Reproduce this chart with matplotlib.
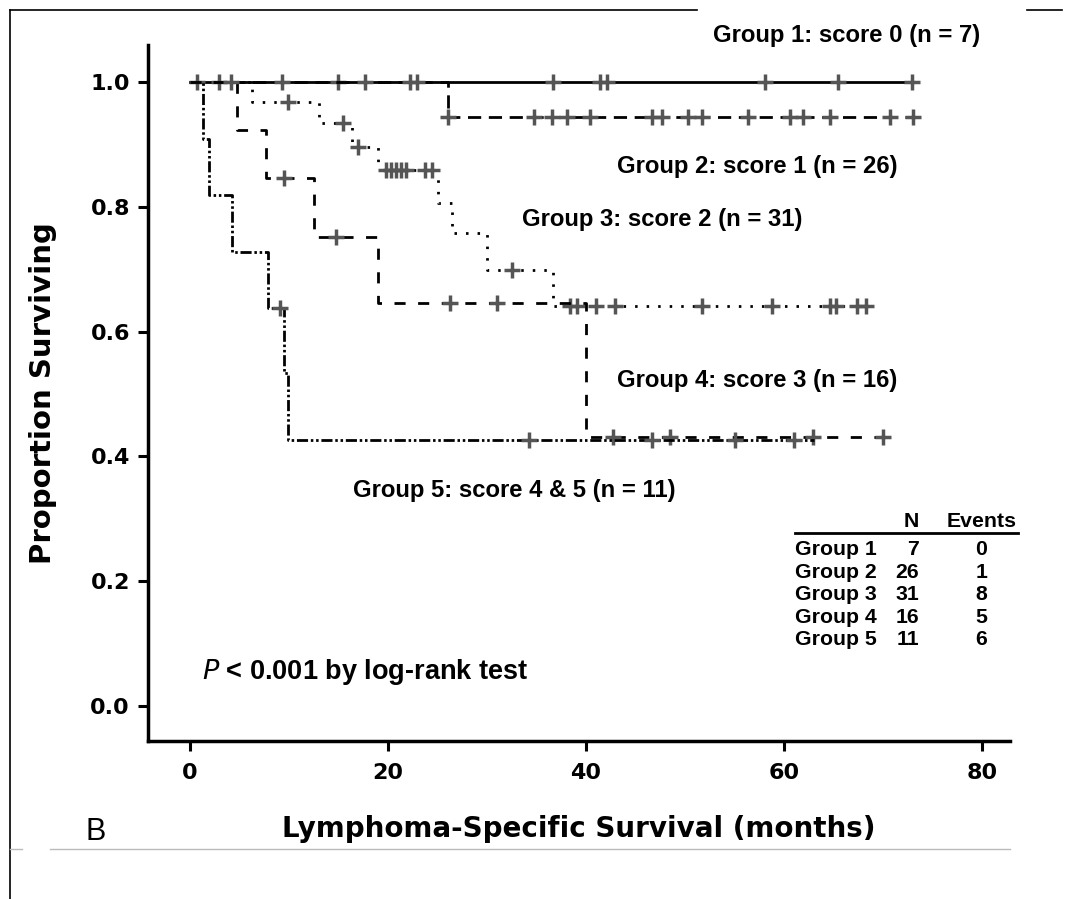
import numpy as np
import matplotlib
matplotlib.use('Agg')
import matplotlib.pyplot as plt
from matplotlib.lines import Line2D

plt.rcParams['lines.scale_dashes'] = False

# Kaplan-Meier step curves (time in months, proportion surviving)
g1_t = [0, 72.9]
g1_s = [1.0, 1.0]
g2_t = [0, 26.1, 73.0]
g2_s = [1.0, 0.944, 0.944]
g3_t = [0, 6.3, 13.1, 16.4, 19.0, 25.1, 26.5, 30.0, 36.7, 68.3]
g3_s = [1.0, 0.967, 0.934, 0.896, 0.859, 0.806, 0.758, 0.699, 0.641, 0.641]
g4_t = [0, 4.8, 7.7, 12.6, 19.0, 40.0, 70.0]
g4_s = [1.0, 0.923, 0.846, 0.752, 0.646, 0.431, 0.431]
g5_t = [0, 1.4, 2.0, 4.3, 7.9, 9.5, 9.9, 63.0]
g5_s = [1.0, 0.909, 0.818, 0.727, 0.638, 0.534, 0.426, 0.426]

# censored observations
g1_c = [15.0, 36.7, 41.4, 42.1, 58.1, 65.4, 72.9]
g2_c = [3.0, 9.3, 17.7, 22.2, 22.9, 26.1, 34.8, 36.6, 38.1, 40.4, 46.7, 47.7,
        50.3, 51.7, 56.4, 60.6, 61.9, 64.6, 70.7, 73.0]
g3_c = [9.9, 15.5, 17.0, 19.8, 20.3, 20.8, 21.3, 21.8, 23.8, 24.5, 32.5, 38.4,
        39.1, 41.0, 42.9, 51.7, 58.8, 64.6, 65.2, 67.4, 68.3]
g4_c = [0.7, 4.2, 9.5, 14.8, 26.3, 31.0, 42.7, 48.5, 62.9, 70.0]
g5_c = [9.1, 34.3, 46.7, 55.0, 61.0]

group_labels = ['Group 1: score 0 (n = 7)', 'Group 2: score 1 (n = 26)',
                'Group 3: score 2 (n = 31)', 'Group 4: score 3 (n = 16)',
                'Group 5: score 4 & 5 (n = 11)']
table_groups = ['Group 1', 'Group 2', 'Group 3', 'Group 4', 'Group 5']
table_n = [7, 26, 31, 16, 11]
table_events = [0, 1, 8, 5, 6]

W, H = 1080, 899
fig = plt.figure(figsize=(W / 100, H / 100), dpi=100)
ax = fig.add_axes([148 / W, 1 - 741 / H, (1010 - 148) / W, (741 - 45) / H])

styles = [
    dict(linestyle='-'),
    dict(dashes=(9.5, 5.5)),
    dict(dashes=(1.8, 6.5)),
    dict(dashes=(8, 9)),
    dict(dashes=(8, 2, 1.8, 2, 1.8, 2)),
]
curves = [(g1_t, g1_s, g1_c), (g2_t, g2_s, g2_c), (g3_t, g3_s, g3_c),
          (g4_t, g4_s, g4_c), (g5_t, g5_s, g5_c)]

for (t, s, c), st in zip(curves, styles):
    ax.plot(t, s, drawstyle='steps-post', color='black', lw=2.0, **st)
    idx = np.searchsorted(t, c, side='right') - 1
    cs = np.array(s)[idx]
    ax.plot(c, cs, linestyle='none', marker='+', color='#555555',
            markersize=11, markeredgewidth=2.5)

ax.set_xlim(-4.2, 82.8)
ax.set_ylim(-0.056, 1.059)
ax.set_xticks([0, 20, 40, 60, 80])
ax.set_yticks([0.0, 0.2, 0.4, 0.6, 0.8, 1.0])
ax.set_yticklabels(['0.0', '0.2', '0.4', '0.6', '0.8', '1.0'])
for sp in ['top', 'right']:
    ax.spines[sp].set_visible(False)
for sp in ['left', 'bottom']:
    ax.spines[sp].set_linewidth(2.5)
ax.tick_params(width=2.2, length=7, labelsize=16)
ax.tick_params(axis='x', pad=9)
ax.tick_params(axis='y', pad=6)
for lab in ax.get_xticklabels() + ax.get_yticklabels():
    lab.set_fontweight('bold')

ax.set_xlabel('Lymphoma-Specific Survival (months)', fontsize=20,
              fontweight='bold', labelpad=23)
ax.set_ylabel('Proportion Surviving', fontsize=21, fontweight='bold',
              labelpad=24)

lab_font = dict(family='Liberation Sans', fontweight='bold', fontsize=17.2)
label_pos = [(52.8, 1.074), (43.1, 0.865), (33.5, 0.779), (43.1, 0.522), (16.5, 0.346)]
for txt, (x, y) in zip(group_labels, label_pos):
    ax.text(x, y, txt, ha='left', va='center', clip_on=False, **lab_font)

ax.text(1.3, 0.054, r'$\bf\it{P}$' + ' < 0.001 by log-rank test', ha='left',
        va='center', family='Liberation Sans', fontweight='bold', fontsize=19.5)

# small N / Events table
tab_font = dict(family='Liberation Sans', fontweight='bold', fontsize=15.3)
ax.text(73.6, 0.296, 'N', ha='right', va='center', **tab_font)
ax.text(79.9, 0.296, 'Events', ha='center', va='center', **tab_font)
ax.plot([61.1, 83.6], [0.278, 0.278], color='black', lw=2, clip_on=False)
for i, (g, n, e) in enumerate(zip(table_groups, table_n, table_events)):
    y = 0.25 - i * 0.036
    ax.text(61.1, y, g, ha='left', va='center', **tab_font)
    ax.text(73.6, y, str(n), ha='right', va='center', **tab_font)
    ax.text(79.9, y, str(e), ha='center', va='center', **tab_font)

# panel letter and frame lines of the original figure
fig.text(96 / W, 1 - 832 / H, 'B', family='Liberation Sans', fontsize=22,
         ha='center', va='center')
fig.add_artist(Line2D([10 / W, 697 / W], [1 - 10 / H, 1 - 10 / H], color='black', lw=1.2))
fig.add_artist(Line2D([1027 / W, 1062 / W], [1 - 10 / H, 1 - 10 / H], color='black', lw=1.2))
fig.add_artist(Line2D([10 / W, 10 / W], [0, 1 - 10 / H], color='black', lw=1.2))
fig.add_artist(Line2D([10 / W, 22 / W], [1 - 849 / H, 1 - 849 / H], color='#bbbbbb', lw=1))
fig.add_artist(Line2D([50 / W, 1010 / W], [1 - 849 / H, 1 - 849 / H], color='#bbbbbb', lw=1))

fig.savefig('out.png', dpi=100)
